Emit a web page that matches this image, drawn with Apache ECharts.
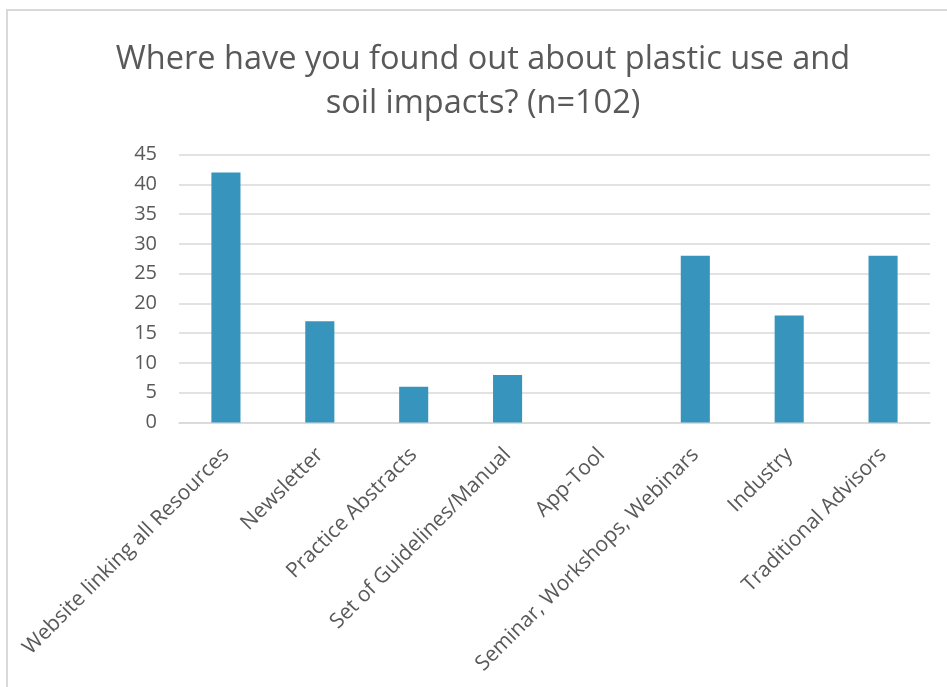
<!DOCTYPE html>
<html>
<head>
<meta charset="utf-8">
<style>
  html, body { margin: 0; padding: 0; background: #fff; }
  #chart { width: 947px; height: 687px; }
</style>
<script src="https://cdn.jsdelivr.net/npm/echarts@6/dist/echarts.min.js"></script>
</head>
<body>
<div id="chart"></div>
<script>
// Survey answers: sources where respondents learned about plastic use and soil impacts
const titleLines = ['Where have you found out about plastic use and', 'soil impacts? (n=102)'];
const categories = [
  'Website linking all Resources',
  'Newsletter',
  'Practice Abstracts',
  'Set of Guidelines/Manual',
  'App-Tool',
  'Seminar, Workshops, Webinars',
  'Industry',
  'Traditional Advisors'
];
const counts = [42, 17, 6, 8, 0, 28, 18, 28];
const yTicks = { min: 0, max: 45, step: 5 };

const FONT = '"Open Sans", "Noto Sans", sans-serif';
const TEXT = '#595959';

const chart = echarts.init(document.getElementById('chart'), null, { renderer: 'canvas' });
chart.setOption({
  animation: false,
  backgroundColor: '#ffffff',
  title: {
    text: titleLines.join('\n'),
    left: 483,
    top: 38,
    textAlign: 'center',
    padding: 0,
    textStyle: {
      fontFamily: FONT,
      fontSize: 32.5,
      fontWeight: 'normal',
      color: TEXT,
      lineHeight: 44
    }
  },
  graphic: [{
    type: 'rect',
    silent: true,
    shape: { x: 7, y: 10, width: 980, height: 720 },
    style: { fill: 'none', stroke: '#d9d9d9', lineWidth: 2 }
  }],
  grid: { left: 179, right: 17, top: 154.7, bottom: 264.5, containLabel: false },
  xAxis: {
    type: 'category',
    data: categories,
    axisTick: { show: false },
    axisLine: { show: true, lineStyle: { color: '#d9d9d9', width: 1.5 } },
    axisLabel: {
      interval: 0,
      rotate: 45,
      margin: 29,
      fontFamily: FONT,
      fontSize: 21,
      color: TEXT
    }
  },
  yAxis: {
    type: 'value',
    min: yTicks.min,
    max: yTicks.max,
    interval: yTicks.step,
    axisLine: { show: false },
    axisTick: { show: false },
    splitLine: { lineStyle: { color: '#d9d9d9', width: 1.5 } },
    axisLabel: {
      margin: 22,
      fontFamily: FONT,
      fontSize: 20,
      color: TEXT
    }
  },
  series: [{
    type: 'bar',
    data: counts,
    barWidth: '31%',
    itemStyle: { color: '#3795bd' }
  }]
});
</script>
</body>
</html>
